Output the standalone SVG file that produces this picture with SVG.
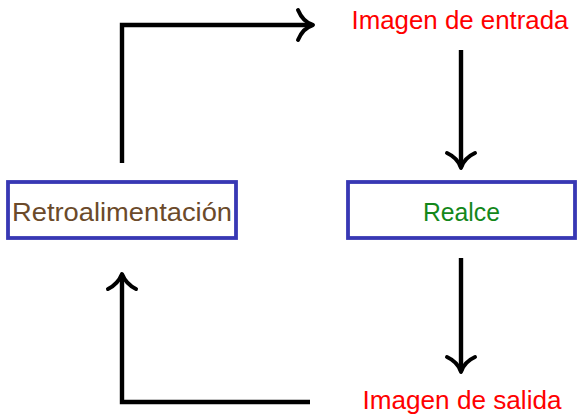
<svg xmlns="http://www.w3.org/2000/svg" width="577" height="416" viewBox="0 0 577 416">
<style>
.box{fill:#fff;stroke:#3838b4;stroke-width:3.8}
.lbl{font-family:"Liberation Sans",Arial,sans-serif;font-size:25px;text-anchor:middle}
.red{fill:#ff0000}
.conn{fill:none;stroke:#000;stroke-width:4.4;stroke-linecap:butt;stroke-linejoin:miter}
.head{fill:none;stroke:#000;stroke-width:4;stroke-linecap:round;stroke-linejoin:round}
</style>
<rect width="577" height="416" fill="#fff"/>
<g id="connectors">
<path class="conn" d="M122,163 V25 H312"/>
<path class="head" d="M298,10 Q303,22 313,25 Q303,28 298,40"/>
<path class="conn" d="M461,50 V167"/>
<path class="head" d="M447,153 Q458,158 461,168 Q464,158 475,153"/>
<path class="conn" d="M461,258 V371"/>
<path class="head" d="M447,357 Q458,362 461,372 Q464,362 475,357"/>
<path class="conn" d="M310,402 H122 V275"/>
<path class="head" d="M108,289 Q118,284 122,274 Q126,284 136,289"/>
</g>
<g id="entrada">
<text class="lbl red" x="460" y="29" textLength="217" lengthAdjust="spacingAndGlyphs">Imagen de entrada</text>
</g>
<g id="realce">
<rect class="box" x="348" y="182" width="227" height="56"/>
<text class="lbl" x="461.5" y="221" fill="#13871a" textLength="77" lengthAdjust="spacingAndGlyphs">Realce</text>
</g>
<g id="salida">
<text class="lbl red" x="462" y="409" textLength="199" lengthAdjust="spacingAndGlyphs">Imagen de salida</text>
</g>
<g id="retroalimentacion">
<rect class="box" x="8" y="182" width="228" height="56"/>
<text class="lbl" x="122" y="221" fill="#6b4a2a" textLength="220" lengthAdjust="spacingAndGlyphs">Retroalimentación</text>
</g>
</svg>
